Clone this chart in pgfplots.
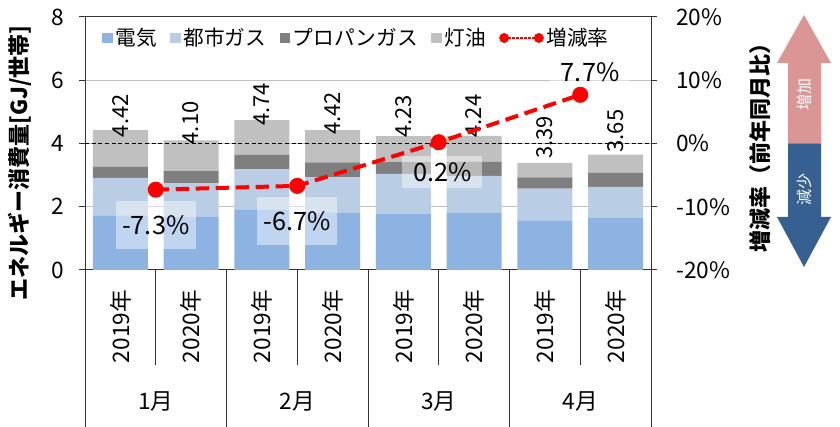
\documentclass[border=0pt]{standalone}
\usepackage{fontspec}
\setmainfont{Noto Sans CJK JP}
\usepackage{pgfplots}
\pgfplotsset{compat=1.18}

\definecolor{cElec}{HTML}{8DB3E2}
\definecolor{cGas}{HTML}{B9CDE5}
\definecolor{cLpg}{HTML}{7F7F7F}
\definecolor{cKero}{HTML}{C0C0C0}
\definecolor{cUp}{HTML}{D99694}
\definecolor{cDown}{HTML}{376092}

\tikzset{labbox/.style={fill=white, fill opacity=0.45, text opacity=1,
    minimum width=60pt, inner sep=0pt, font=\fontsize{19}{22}\selectfont}}

\pgfplotsset{
  sqleg/.style={legend image code/.code={\fill[##1] (0pt,-4pt) rectangle (8pt,4pt);}},
  frame/.style={
    at={(63.75pt,117.75pt)}, anchor=south west,
    scale only axis, width=424.5pt, height=189.75pt,
    xmin=0.5, xmax=8.5,
    /pgf/number format/assume math mode=true,
    tick align=outside, major tick length=4.5pt,
    ticklabel style={font=\fontsize{17}{20}\selectfont},
    yticklabel shift=8pt,
    axis line style={black!80, line width=0.75pt},
  },
}
\newcommand{\tickfont}{\fontsize{17}{20}\selectfont}

\begin{document}
\begin{tikzpicture}
\path[use as bounding box] (0,0) rectangle (630pt,320.25pt);

\begin{axis}[frame,
  ybar stacked, bar width=41.25pt,
  ymin=0, ymax=8, ytick={0,2,4,6,8},
  ytick pos=left,
  ytick style={black!80, line width=0.75pt},
  ymajorgrids, grid style={black!25, line width=0.75pt},
  xtick={1,...,8},
  xticklabels={2019年,2020年,2019年,2020年,2019年,2020年,2019年,2020年},
  xtick style={draw=none},
  xticklabel style={rotate=90, anchor=east},
  xticklabel shift=7pt,
  clip=false,
  legend style={at={(0.48,0.917)}, anchor=center, draw=none, fill=none,
    font=\fontsize{15.5}{18}\selectfont,
    /tikz/every even column/.append style={column sep=8pt}},
  legend columns=-1,
]
\addplot[fill=cElec, draw=none, sqleg] coordinates
  {(1,1.73) (2,1.68) (3,1.90) (4,1.81) (5,1.78) (6,1.81) (7,1.57) (8,1.65)};
\addlegendentry{電気}
\addplot[fill=cGas, draw=none, sqleg] coordinates
  {(1,1.18) (2,1.06) (3,1.28) (4,1.12) (5,1.26) (6,1.17) (7,1.00) (8,0.98)};
\addlegendentry{都市ガス}
\addplot[fill=cLpg, draw=none, sqleg] coordinates
  {(1,0.36) (2,0.39) (3,0.47) (4,0.47) (5,0.37) (6,0.44) (7,0.36) (8,0.44)};
\addlegendentry{プロパンガス}
\addplot[fill=cKero, draw=none, sqleg,
  point meta=explicit symbolic, nodes near coords,
  nodes near coords style={rotate=90, anchor=west, black, font=\fontsize{16.5}{19}\selectfont, xshift=5pt}]
  coordinates
  {(1,1.15)[4.42] (2,0.97)[4.10] (3,1.09)[4.74] (4,1.02)[4.42]
   (5,0.82)[4.23] (6,0.82)[4.24] (7,0.46)[3.39] (8,0.58)[3.65]};
\addlegendentry{灯油}
\addlegendimage{legend image code/.code={
  \draw[red, line width=2pt, densely dotted] (0pt,0pt) -- (26pt,0pt);
  \fill[red] (0pt,0pt) circle (3.5pt); \fill[red] (26pt,0pt) circle (3.5pt);}}
\addlegendentry{増減率}

% separators under the x axis
\pgfplotsinvokeforeach{1.5,3.5,5.5,7.5}{
  \draw[black!80, line width=0.75pt] (axis cs:#1,0) -- ++(0pt,-71.25pt);}
\pgfplotsinvokeforeach{0.5,2.5,4.5,6.5,8.5}{
  \draw[black!80, line width=0.75pt] (axis cs:#1,0) -- ++(0pt,-117.75pt);}
\node[font=\tickfont, yshift=-99pt] at (axis cs:1.5,0) {1月};
\node[font=\tickfont, yshift=-99pt] at (axis cs:3.5,0) {2月};
\node[font=\tickfont, yshift=-99pt] at (axis cs:5.5,0) {3月};
\node[font=\tickfont, yshift=-99pt] at (axis cs:7.5,0) {4月};
\end{axis}

\begin{axis}[frame,
  ymin=-20, ymax=20, ytick={-20,-10,0,10,20},
  axis x line=none, axis y line*=right,
  ytick style={black!80, line width=0.75pt},
  yticklabel={\pgfmathprintnumber{\tick}\%},
  yticklabel shift=11pt,
  clip=false,
]
\addplot[black, dash pattern=on 3pt off 2pt, line width=0.75pt] coordinates {(0.5,0) (8.5,0)};
\addplot[red, line width=3pt, dash pattern=on 10pt off 5pt,
  mark=*, mark size=4.5pt, mark options={solid}] coordinates
  {(1.5,-7.3) (3.5,-6.7) (5.5,0.2) (7.5,7.7)};
\node[labbox, minimum height=36pt] at (axis cs:1.5,-12.9) {-7.3\%};
\node[labbox, minimum height=36pt] at (axis cs:3.5,-12.25) {-6.7\%};
\node[labbox, minimum height=24pt] at (axis cs:5.55,-4.5) {0.2\%};
\node[labbox, minimum height=24pt] at (axis cs:7.64,11.3) {7.7\%};
\end{axis}

% axis titles and the arrow, in pixel coordinates
\begin{scope}[x=0.75pt, y=-0.75pt, yshift=320.25pt]
  \node[rotate=90, font=\fontsize{16.5}{18}\selectfont\bfseries] at (20,163)
    {エネルギー消費量[GJ/世帯]};
  \node[rotate=90, font=\fontsize{16.5}{18}\selectfont\bfseries] at (760,143)
    {増減率（前年同月比）};
  \fill[cUp] (804,15) -- (831,63) -- (821,63) -- (821,143.5) -- (788,143.5)
    -- (788,63) -- (777,63) -- cycle;
  \fill[cDown] (788,143.5) -- (821,143.5) -- (821,217) -- (831,217)
    -- (804,267) -- (777,217) -- (788,217) -- cycle;
  \node[rotate=90, white, font=\fontsize{12}{14}\selectfont] at (804,95) {増加};
  \node[rotate=90, white, font=\fontsize{12}{14}\selectfont] at (804,190) {減少};
\end{scope}
\end{tikzpicture}
\end{document}
